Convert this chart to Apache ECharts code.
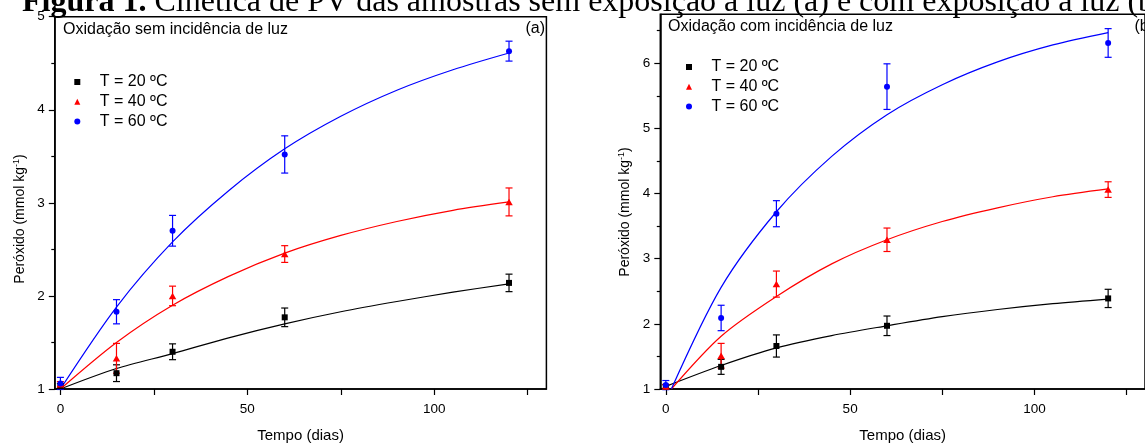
<!DOCTYPE html>
<html>
<head>
<meta charset="utf-8">
<script src="https://cdn.jsdelivr.net/npm/echarts@6/dist/echarts.min.js"></script>
<style>
  html, body { margin: 0; padding: 0; background: #fff; }
  #chart { width: 1145px; height: 448px; }
</style>
</head>
<body>
<div id="chart"></div>
<script>
// measured days
const days = [0, 15, 30, 60, 120];

// (a) sem luz
const a20 = [1.03, 1.17, 1.40, 1.77, 2.14];
const a20Err = [0.03, 0.09, 0.085, 0.10, 0.094];
const a40 = [1.05, 1.33, 2.00, 2.45, 3.01];
const a40Err = [0.03, 0.16, 0.105, 0.09, 0.15];
const a60 = [1.06, 1.83, 2.70, 3.52, 4.63];
const a60Err = [0.065, 0.13, 0.165, 0.20, 0.107];

// (b) com luz
const b20 = [1.035, 1.34, 1.66, 1.97, 2.39];
const b20Err = [0.03, 0.115, 0.17, 0.15, 0.14];
const b40 = [1.04, 1.51, 2.61, 3.29, 4.06];
const b40Err = [0.03, 0.19, 0.20, 0.18, 0.12];
const b60 = [1.06, 2.09, 3.69, 5.64, 6.31];
const b60Err = [0.07, 0.195, 0.20, 0.35, 0.22];

// fitted curves
const fitX = [0, 15, 30, 45, 60, 75, 90, 105, 120];
const fitXb = [1.5, 15, 30, 45, 60, 75, 90, 105, 120];
const aFit20 = [1.0, 1.22, 1.38, 1.55, 1.70, 1.83, 1.94, 2.04, 2.13];
const aFit40 = [1.0, 1.50, 1.90, 2.21, 2.46, 2.65, 2.80, 2.92, 3.01];
const aFit60 = [1.0, 1.88, 2.58, 3.13, 3.58, 3.93, 4.21, 4.43, 4.61];
const bFit20 = [1.04, 1.36, 1.63, 1.82, 1.97, 2.11, 2.22, 2.31, 2.38];
const bFit40 = [1.0, 1.81, 2.42, 2.92, 3.29, 3.57, 3.78, 3.95, 4.07];
const bFit60 = [1.0, 2.56, 3.72, 4.57, 5.21, 5.67, 6.02, 6.28, 6.47];

const names = ['T = 20 ºC', 'T = 40 ºC', 'T = 60 ºC'];
const colors = ['#000000', '#ff0000', '#0000ff'];
const symbols = ['rect', 'triangle', 'circle'];
const symSizes = [6, [7.5, 6.5], 6];

const xTicks = [0, 25, 50, 75, 100, 125];
const xLabels = [0, 50, 100];
const yLabelsA = [1, 2, 3, 4, 5];
const yMinorA = [1.5, 2.5, 3.5, 4.5];
const yLabelsB = [1, 2, 3, 4, 5, 6];
const yMinorB = [1.5, 2.5, 3.5, 4.5, 5.5, 6.5];

const SANS = 'Liberation Sans, Arial, sans-serif';
const SERIF = 'Liberation Serif, Times New Roman, serif';

const chart = echarts.init(document.getElementById('chart'));

function pairs(xv, yv) {
  return xv.map((x, i) => [x, yv[i]]);
}
function errData(yv, ev) {
  return days.map((x, i) => [x, yv[i] - ev[i], yv[i] + ev[i]]);
}

function errRender(color) {
  return function (params, api) {
    const x = api.value(0);
    const top = api.coord([x, api.value(2)]);
    const bot = api.coord([x, api.value(1)]);
    const w = 3.5;
    const st = { stroke: color, lineWidth: 1.2 };
    return {
      type: 'group',
      children: [
        { type: 'line', shape: { x1: top[0], y1: top[1], x2: bot[0], y2: bot[1] }, style: st },
        { type: 'line', shape: { x1: top[0] - w, y1: top[1], x2: top[0] + w, y2: top[1] }, style: st },
        { type: 'line', shape: { x1: bot[0] - w, y1: bot[1], x2: bot[0] + w, y2: bot[1] }, style: st }
      ]
    };
  };
}

function xAxisFor(gi) {
  return {
    gridIndex: gi, type: 'value', min: -1.5, max: 130,
    name: 'Tempo (dias)', nameLocation: 'middle', nameGap: 39,
    nameTextStyle: { color: '#000', fontSize: 15, fontFamily: SANS },
    axisLine: { onZero: false, lineStyle: { color: '#000', width: 1.5 } },
    axisTick: { customValues: xTicks, length: 6, lineStyle: { color: '#000', width: 1.2 } },
    axisLabel: { customValues: xLabels, margin: 13, color: '#000', fontSize: 13.5, fontFamily: SANS },
    splitLine: { show: false }
  };
}
function yAxisFor(gi, max, labels) {
  return {
    gridIndex: gi, type: 'value', position: 'left', min: 1, max: max,
    axisLine: { onZero: false, lineStyle: { color: '#000', width: 1.5 } },
    axisTick: { customValues: labels, length: 6, lineStyle: { color: '#000', width: 1.2 } },
    axisLabel: { customValues: labels, margin: 10, color: '#000', fontSize: 13.5, fontFamily: SANS },
    splitLine: { show: false }
  };
}
function yMinorFor(gi, max, minor) {
  return {
    gridIndex: gi, type: 'value', position: 'left', min: 1, max: max,
    axisLine: { show: false, onZero: false },
    axisTick: { customValues: minor, length: 3.5, lineStyle: { color: '#000', width: 1.2 } },
    axisLabel: { show: false },
    splitLine: { show: false }
  };
}

const series = [];
function addPanel(xi, yi, vals, errs, fits, fx) {
  for (let k = 0; k < 3; k++) {
    series.push({
      type: 'line', xAxisIndex: xi, yAxisIndex: yi,
      data: pairs(k === 0 ? fitX : fx, fits[k]),
      smooth: 0.3, showSymbol: false, symbol: 'none',
      lineStyle: { color: colors[k], width: 1.2 }, z: 2, silent: true
    });
    series.push({
      type: 'custom', xAxisIndex: xi, yAxisIndex: yi,
      data: errData(vals[k], errs[k]),
      encode: { x: 0, y: [1, 2] },
      renderItem: errRender(colors[k]), z: 3, silent: true
    });
    series.push({
      type: 'scatter', name: names[k], xAxisIndex: xi, yAxisIndex: yi,
      data: pairs(days, vals[k]),
      symbol: symbols[k], symbolSize: symSizes[k],
      itemStyle: { color: colors[k], opacity: 1 }, z: 4
    });
  }
}
addPanel(0, 0, [a20, a40, a60], [a20Err, a40Err, a60Err], [aFit20, aFit40, aFit60], fitX);
addPanel(1, 2, [b20, b40, b60], [b20Err, b40Err, b60Err], [bFit20, bFit40, bFit60], fitXb);

function legendAt(left, top) {
  return {
    left: left, top: top, orient: 'vertical',
    itemWidth: 6, itemHeight: 6, itemGap: 3.8,
    data: names.map((n, i) => ({ name: n, icon: symbols[i] })),
    textStyle: { color: '#000', fontSize: 16, fontFamily: SANS, lineHeight: 16, padding: [0, 0, 0, 14.5] },
    selectedMode: false
  };
}

const yTitle = '{a|Peróxido (mmol kg}{s|-1}{a|)}';
const yTitleRich = {
  a: { fontSize: 14, fontFamily: SANS, color: '#000', lineHeight: 16 },
  s: { fontSize: 9, fontFamily: SANS, color: '#000', lineHeight: 8, verticalAlign: 'top' }
};
function label(x, y, text, align, size) {
  return {
    type: 'text', x: x, y: y, z: 10,
    style: {
      text: text, fill: '#000', font: (size || 16) + 'px ' + SANS,
      align: align || 'left', textAlign: align || 'left',
      verticalAlign: 'middle', textVerticalAlign: 'middle'
    }
  };
}

chart.setOption({
  animation: false,
  backgroundColor: '#fff',
  grid: [
    { left: 54.8, top: 16.7, width: 491.6, height: 375, show: true, borderColor: '#000', borderWidth: 1.5, backgroundColor: 'transparent' },
    { left: 660.3, top: 14.3, width: 497, height: 375.7, show: true, borderColor: '#000', borderWidth: 1.5, backgroundColor: 'transparent' }
  ],
  xAxis: [xAxisFor(0), xAxisFor(1)],
  yAxis: [
    yAxisFor(0, 5, yLabelsA), yMinorFor(0, 5, yMinorA),
    yAxisFor(1, 6.75, yLabelsB), yMinorFor(1, 6.75, yMinorB)
  ],
  legend: [legendAt(69.3, 69), legendAt(681, 54)],
  graphic: [
    {
      type: 'text', x: 22, y: 3, z: 10,
      style: {
        text: '{b|Figura 1.} {r|Cinética de PV das amostras sem exposição à luz (a) e com exposição à luz (b)}',
        rich: {
          b: { fontFamily: SERIF, fontSize: 32, fontWeight: 'bold', fill: '#000', lineHeight: 32 },
          r: { fontFamily: SERIF, fontSize: 32, fill: '#000', lineHeight: 32 }
        },
        fontFamily: SERIF, fontSize: 32, fill: '#000',
        verticalAlign: 'middle', textVerticalAlign: 'middle'
      }
    },
    label(63, 30, 'Oxidação sem incidência de luz'),
    label(545, 29, '(a)', 'right'),
    label(668, 27, 'Oxidação com incidência de luz'),
    label(1154, 27, '(b)', 'right'),
    {
      type: 'text', x: 20, y: 219, rotation: Math.PI / 2, z: 10,
      style: { text: yTitle, rich: yTitleRich, align: 'center', textAlign: 'center', verticalAlign: 'middle', textVerticalAlign: 'middle' }
    },
    {
      type: 'text', x: 625, y: 212, rotation: Math.PI / 2, z: 10,
      style: { text: yTitle, rich: yTitleRich, align: 'center', textAlign: 'center', verticalAlign: 'middle', textVerticalAlign: 'middle' }
    }
  ],
  series: series
});
</script>
</body>
</html>
